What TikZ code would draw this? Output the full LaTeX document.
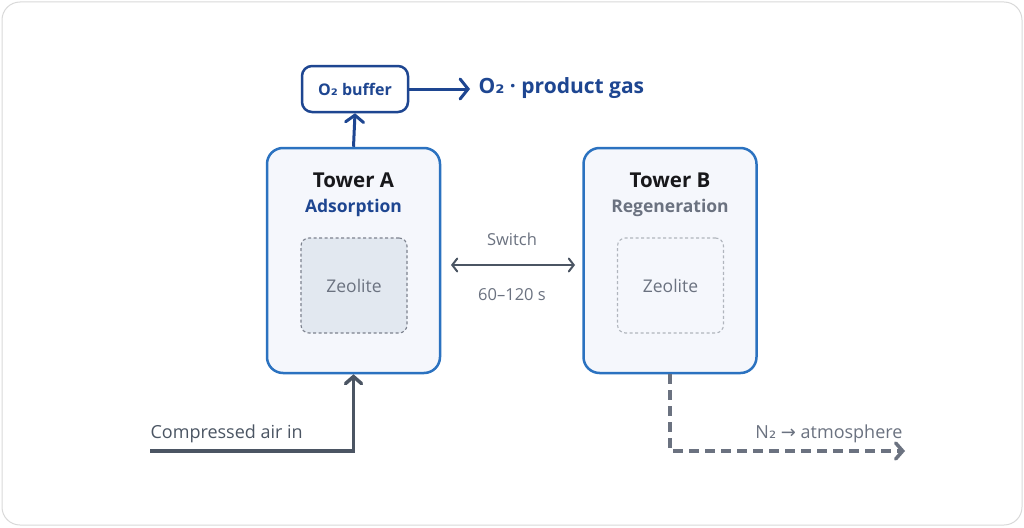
\documentclass[tikz,border=0pt]{standalone}
\usepackage{fontspec}
\setmainfont{Open Sans}
\newfontfamily\symfont{DejaVu Sans}
\newcommand{\two}{{\symfont ₂}}
\usetikzlibrary{arrows.meta}
\definecolor{framegray}{RGB}{217,217,217}
\definecolor{towerblue}{RGB}{43,114,192}
\definecolor{towerfill}{RGB}{245,247,252}
\definecolor{deepblue}{RGB}{30,70,145}
\definecolor{zeofill}{RGB}{226,232,240}
\definecolor{zeoline}{RGB}{125,130,142}
\definecolor{zeolight}{RGB}{176,181,189}
\definecolor{slate}{RGB}{75,85,99}
\definecolor{softgray}{RGB}{107,114,128}
\definecolor{inkblack}{RGB}{24,24,27}
\begin{document}
\begin{tikzpicture}[x=1pt,y=-1pt,
  tower/.style={draw=towerblue,line width=2.5pt,fill=towerfill,rounded corners=16pt,minimum width=173pt,minimum height=225pt},
  zeolite/.style={draw=zeoline,line width=1.1pt,dash pattern=on 3pt off 2.5pt,fill=zeofill,rounded corners=8pt,minimum width=106pt,minimum height=95pt,text=softgray,font=\fontsize{17.5}{19}\selectfont},
  title/.style={text=inkblack,font=\fontsize{20.5}{22}\selectfont\bfseries},
  phase/.style={font=\fontsize{17.5}{19}\selectfont\bfseries},
  flow/.style={line width=3.5pt,-{Straight Barb[length=7pt,width=16pt,line cap=round]}},
  note/.style={text=slate,font=\fontsize{18}{20}\selectfont}]
\useasboundingbox (0,0) rectangle (1024,527);
\draw[framegray,fill=white,line width=1pt,rounded corners=18pt] (2,2) rectangle (1022,525);

\node[tower] (towerA) at (353.5,260.5) {};
\node[title] (titleA) at (353.5,180) {Tower A};
\node[phase,text=deepblue] (phaseA) at (353.5,208) {Adsorption};
\node[zeolite] (zeoA) at (354,285.5) {Zeolite};

\node[tower] (towerB) at (670,260.5) {};
\node[title] (titleB) at (670,180) {Tower B};
\node[phase,text=softgray] (phaseB) at (670,208) {Regeneration};
\node[zeolite,draw=zeolight,fill=towerfill] (zeoB) at (670.5,285.5) {Zeolite};

\node[draw=deepblue,line width=2.5pt,fill=white,rounded corners=10pt,minimum width=106pt,minimum height=46pt,text=deepblue,font=\fontsize{16}{18}\selectfont\bfseries] (buffer) at (355,89) {O\two{} buffer};
\coordinate (prodend) at (470,89);
\node[anchor=west,text=deepblue,font=\fontsize{21}{23}\selectfont\bfseries] (product) at (475,88) {O\two{} · product gas};

\draw[deepblue,line width=3pt,-{Straight Barb[length=7pt,width=18pt,line cap=round]}] (towerA.north) -- (buffer.south);
\draw[deepblue,line width=3pt,-{Straight Barb[length=8pt,width=20pt,line cap=round]}] (buffer.east) -- (prodend);

\coordinate (swleft) at (451,265);
\coordinate (swright) at (575,265);
\draw[slate,line width=2pt,{Straight Barb[length=5pt,width=13pt,line cap=round]}-{Straight Barb[length=5pt,width=13pt,line cap=round]}] (swleft) -- (swright);
\node[text=softgray,font=\fontsize{16.5}{18}\selectfont] (switch) at (512,239) {Switch};
\node[text=softgray,font=\fontsize{16.5}{18}\selectfont] (cycle) at (512,295) {60–120 s};

\coordinate (airin) at (150,451);
\draw[slate,flow] (airin) -| (towerA.south);
\node[note,anchor=south west] (airlabel) at (147,446) {Compressed air in};

\coordinate (n2out) at (905,451);
\draw[softgray,flow,dash pattern=on 10pt off 6pt] (towerB.south) |- (n2out);
\node[note,text=softgray,anchor=south east] (n2label) at (906,446) {N\two{} {\symfont →} atmosphere};
\end{tikzpicture}
\end{document}
